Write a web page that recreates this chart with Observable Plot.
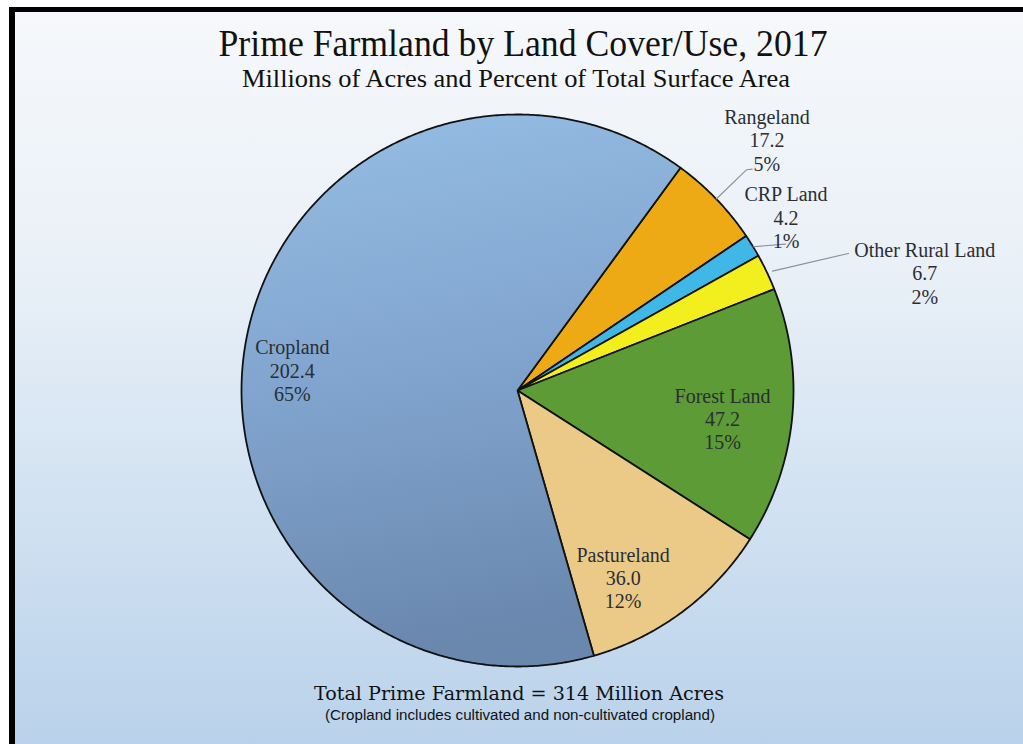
<!DOCTYPE html>
<html>
<head>
<meta charset="utf-8">
<script src="https://cdn.jsdelivr.net/npm/d3@7"></script>
<script src="https://cdn.jsdelivr.net/npm/@observablehq/plot@0.6"></script>
<style>
  html, body { margin: 0; padding: 0; background: #fff; }
  #page { position: relative; width: 1023px; height: 744px; overflow: hidden; background: #fff; }
  #frame { position: absolute; left: 9px; top: 7px; right: -10px; bottom: -10px;
           border-left: 6px solid #000; border-top: 5px solid #000;
           background: linear-gradient(180deg, #f6f8fb 0%, #e9f0f7 35%, #cfe0f1 70%, #b8d1ea 100%); }
  #page svg { position: absolute; left: 0; top: 0; }
</style>
</head>
<body>
<div id="page"><div id="frame"></div></div>
<script>
// ---- data ----
const categories = ["Rangeland", "CRP Land", "Other Rural Land", "Forest Land", "Pastureland", "Cropland"];
const acres = [17.2, 4.2, 6.7, 47.2, 36.0, 202.4];
const percents = ["5%", "1%", "2%", "15%", "12%", "65%"];
const colors = ["#eeaa14", "#3fb8e8", "#f3ef1e", "#5c9b35", "#ebca87", "url(#cropGrad)"];
const titleText = "Prime Farmland by Land Cover/Use, 2017";
const subtitleText = "Millions of Acres and Percent of Total Surface Area";
const footerText = "Total Prime Farmland = 314 Million Acres";
const noteText = "(Cropland includes cultivated and non-cultivated cropland)";

// ---- layout (label placement relative to slice mid-angle) ----
const startAngle = 36.2;               // degrees clockwise from north
const labelOffsetAngle = [-1.2, -1.2, 9.3, 2.3, 7.3, -4.9];
const labelRadius = [1.281, 1.158, 1.536, 0.75, 0.779, 0.819];
const leaders = {
  "Rangeland": [[0, 1.0], [0, 1.153], [0.6, 1.169]],
  "CRP Land": [[0.25, 1.0], [3.0, 1.106]],
  "Other Rural Land": [[0.3, 1.02], [2.9, 1.298]]
};

const total = d3.sum(acres);
const rad = d => d * Math.PI / 180;
const polar = (deg, r) => ({x: r * Math.sin(rad(deg)), y: r * Math.cos(rad(deg))});

let a = startAngle;
const slices = categories.map((cat, i) => {
  const w = acres[i] / total * 360;
  const s = {cat, a0: a, a1: a + w, mid: a + w / 2, i};
  a += w;
  return s;
});

const pts = slices.flatMap(s => {
  const arr = [{cat: s.cat, x: 0, y: 0}];
  const n = Math.max(2, Math.ceil((s.a1 - s.a0) / 0.5));
  for (let k = 0; k <= n; k++) {
    const p = polar(s.a0 + (s.a1 - s.a0) * k / n, 1);
    arr.push({cat: s.cat, ...p});
  }
  arr.push({cat: s.cat, x: 0, y: 0});
  return arr;
});

const labels = slices.map(s => {
  const p = polar(s.mid + labelOffsetAngle[s.i], labelRadius[s.i]);
  return {...p, cat: s.cat, text: `${s.cat}\n${acres[s.i].toFixed(1)}\n${percents[s.i]}`};
});

const leaderPts = slices.filter(s => leaders[s.cat]).flatMap(s =>
  leaders[s.cat].map(([off, r]) => ({cat: s.cat, ...polar(s.mid + off, r)})));

const cx = 517, cy = 390, R = 276;

const svg = Plot.plot({
  width: 1023,
  height: 744,
  margin: 0,
  style: {background: "transparent", overflow: "visible"},
  x: {domain: [-1, 1], range: [cx - R, cx + R], axis: null},
  y: {domain: [-1, 1], range: [cy + R, cy - R], axis: null},
  color: {domain: categories, range: colors},
  marks: [
    Plot.line(pts, {x: "x", y: "y", z: "cat", fill: "cat", stroke: "#111", strokeWidth: 1.8, strokeLinejoin: "round", curve: "linear"}),
    Plot.line(leaderPts, {x: "x", y: "y", z: "cat", stroke: "#8a9099", strokeWidth: 1.1}),
    Plot.text(labels, {x: "x", y: "y", text: "text", fontFamily: "Liberation Serif, Times New Roman, serif", fontSize: 20, lineHeight: 1.16, fill: "#2a2e34", textAnchor: "middle", lineAnchor: "middle"})
  ]
});

const defs = d3.select(svg).insert("defs", ":first-child");
const g = defs.append("linearGradient").attr("id", "cropGrad").attr("x1", 0).attr("y1", 0).attr("x2", 0.15).attr("y2", 1);
g.append("stop").attr("offset", "0%").attr("stop-color", "#96bee5");
g.append("stop").attr("offset", "55%").attr("stop-color", "#7fa2cc");
g.append("stop").attr("offset", "100%").attr("stop-color", "#6a88ae");

document.getElementById("page").appendChild(svg);

// ---- title / subtitle / footer ----
const over = d3.select("#page").append("svg").attr("width", 1023).attr("height", 744);
const texts = [
  {t: titleText, x: 523, y: 56, size: 38, len: 609, font: "Liberation Serif, Times New Roman, serif"},
  {t: subtitleText, x: 516, y: 87, size: 26, len: 548, font: "Liberation Serif, Times New Roman, serif"},
  {t: footerText, x: 519, y: 700, size: 19, len: 410, font: "DejaVu Serif, serif"},
  {t: noteText, x: 520, y: 720, size: 14, len: 390, font: "Liberation Sans Narrow, Liberation Sans, Arial, sans-serif"}
];
over.selectAll("text").data(texts).join("text")
  .attr("x", d => d.x).attr("y", d => d.y)
  .attr("text-anchor", "middle")
  .attr("font-family", d => d.font)
  .attr("font-size", d => d.size)
  .attr("textLength", d => d.len)
  .attr("lengthAdjust", "spacingAndGlyphs")
  .attr("fill", "#111")
  .text(d => d.t);
</script>
</body>
</html>
